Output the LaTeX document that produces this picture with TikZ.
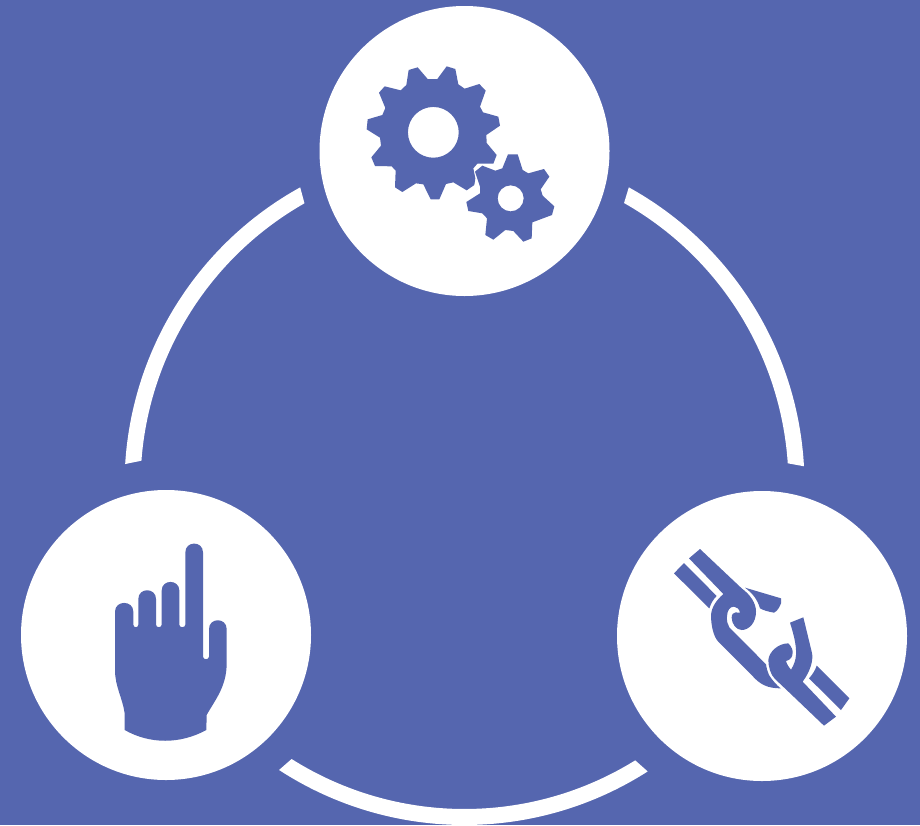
\documentclass[tikz,border=0pt]{standalone}
\definecolor{bluebg}{RGB}{85,102,175}
\tikzset{
  disc/.style={circle,fill=white,draw=none,minimum size=290pt,inner sep=0pt},
  ringarc/.style={fill=white,draw=none},
  icon/.style={fill=bluebg,draw=none,even odd rule},
  zoomed/.style={x=0.33333pt,y=-0.33333pt}
}
\begin{document}
\begin{tikzpicture}[x=1pt,y=-1pt]
\useasboundingbox (0,0) rectangle (920,825);
\clip (0,0) rectangle (920,825);
\fill[bluebg] (0,0) rectangle (920,825);
\coordinate (ringc) at (464.5,485);
% ring arcs: outer edge, slanted cut, inner edge back
\fill[ringarc] ([shift={(176.46:340pt)}]ringc) arc[start angle=176.46,end angle=118.9,radius=340pt]
 -- ([shift={(119.6:324pt)}]ringc) arc[start angle=119.6,end angle=175.7,radius=324pt] -- cycle;
\fill[ringarc] ([shift={(61.1:340pt)}]ringc) arc[start angle=61.1,end angle=3.16,radius=340pt]
 -- ([shift={(3.84:324pt)}]ringc) arc[start angle=3.84,end angle=60.5,radius=324pt] -- cycle;
\fill[ringarc] ([shift={(236.95:340pt)}]ringc) arc[start angle=236.95,end angle=302.6,radius=340pt]
 -- ([shift={(301.8:324pt)}]ringc) arc[start angle=301.8,end angle=237.75,radius=324pt] -- cycle;
% discs
\node[disc] (gears) at (464.5,151) {};
\node[disc] (hand) at (166,635) {};
\node[disc] (chain) at (762,636) {};
% gears
\begin{scope}[shift={(350,50)},zoomed]
\fill[icon] (176,60)--(203,52)--(233,87)--(262,87)--(290,49)--(316,57)--(325,103)--(344,116)--(388,102)--(407,122)--(390,170)--(399,187)--(445,200)--(450,227)--(409,255)--(410,279)--(440,315)--(430,341)--(382,341)--(370,355)--(376,385)--(373,405)--(350,421)--(310,397)--(288,402)--(268,448)--(242,448)--(220,403)--(198,400)--(157,426)--(135,412)--(137,362)--(125,349)--(75,348)--(64,322)--(93,287)--(90,263)--(50,238)--(53,208)--(97,195)--(106,174)--(87,128)--(104,109)--(152,121)--(169,105)--cycle
 (250,247) circle[radius=25.4pt];
\fill[icon] (474,313)--(503,313)--(518,360)--(535,370)--(582,357)--(598,380)--(572,418)--(578,437)--(613,469)--(606,495)--(547,517)--(545,565)--(520,575)--(490,543)--(466,540)--(430,569)--(406,555)--(411,505)--(397,490)--(355,483)--(349,456)--(390,430)--(390,410)--(375,365)--(397,347)--(436,362)--(457,355)--cycle
 (482,445) circle[radius=13pt];
\end{scope}
% hand
\begin{scope}[shift={(90,530)},zoomed]
\fill[icon] (75,245) .. controls (75,210) and (130,210) .. (130,245)
 -- (130,284) .. controls (130,294) and (145,294) .. (145,284)
 -- (145,207) .. controls (145,172) and (198,172) .. (198,207)
 -- (198,284) .. controls (198,294) and (215,294) .. (215,284)
 -- (215,182) .. controls (215,147) and (268,147) .. (268,182)
 -- (268,284) .. controls (268,294) and (286,294) .. (286,284)
 -- (286,67) .. controls (286,32) and (339,32) .. (339,67)
 -- (339,380) .. controls (339,390) and (357,390) .. (357,380)
 -- (357,297) .. controls (357,262) and (410,262) .. (410,297)
 -- (410,400) .. controls (410,470) and (375,510) .. (350,555)
 -- (349,600) .. controls (270,643) and (180,643) .. (104,600)
 -- (104,550) .. controls (98,505) and (75,470) .. (75,420) -- cycle;
\end{scope}
% chain
\begin{scope}[shift={(660,535)},zoomed]
% lower-left strip
\fill[icon] (42,115)--(72,84)--(170,183) .. controls (160,192) and (153,205) .. (148,220) -- cycle;
% left link with hook
\fill[icon] (87,70)--(120,42)--(245,160)
 .. controls (272,180) and (288,205) .. (288,230)
 .. controls (288,262) and (268,285) .. (245,285)
 .. controls (228,285) and (215,265) .. (215,248)
 .. controls (215,238) and (220,232) .. (227,232)
 .. controls (232,232) and (237,234) .. (240,233)
 .. controls (238,222) and (230,215) .. (222,215)
 .. controls (210,215) and (202,225) .. (201,243)
 .. controls (200,258) and (202,268) .. (208,277)
 -- (318,388) .. controls (320,400) and (322,410) .. (327,420)
 .. controls (340,440) and (350,450) .. (362,460)
 .. controls (325,460) and (300,450) .. (275,420)
 -- (175,320) .. controls (160,305) and (153,270) .. (153,240)
 .. controls (155,215) and (170,195) .. (190,177) -- cycle;
% broken piece
\fill[icon] (255,158)--(363,190)--(363,205) .. controls (358,218) and (352,228) .. (342,233)
 .. controls (325,230) and (310,226) .. (300,220)
 .. controls (293,195) and (278,175) .. (255,158) -- cycle;
% right link with hook
\fill[icon] (390,263)--(430,247)--(455,350)
 .. controls (462,375) and (450,410) .. (428,440)
 -- (528,545)--(492,572)--(380,465)
 -- (345,432) .. controls (332,420) and (325,395) .. (325,375)
 .. controls (327,350) and (355,325) .. (385,325)
 .. controls (395,335) and (398,345) .. (398,352)
 .. controls (398,365) and (392,375) .. (378,378)
 .. controls (380,388) and (388,398) .. (393,404)
 .. controls (402,390) and (407,375) .. (408,360)
 .. controls (410,330) and (400,295) .. (390,263) -- cycle;
% lower-right strip
\fill[icon] (470,392)--(568,490)--(543,525)--(447,430) .. controls (458,418) and (466,405) .. (470,392) -- cycle;
\end{scope}
\end{tikzpicture}
\end{document}
